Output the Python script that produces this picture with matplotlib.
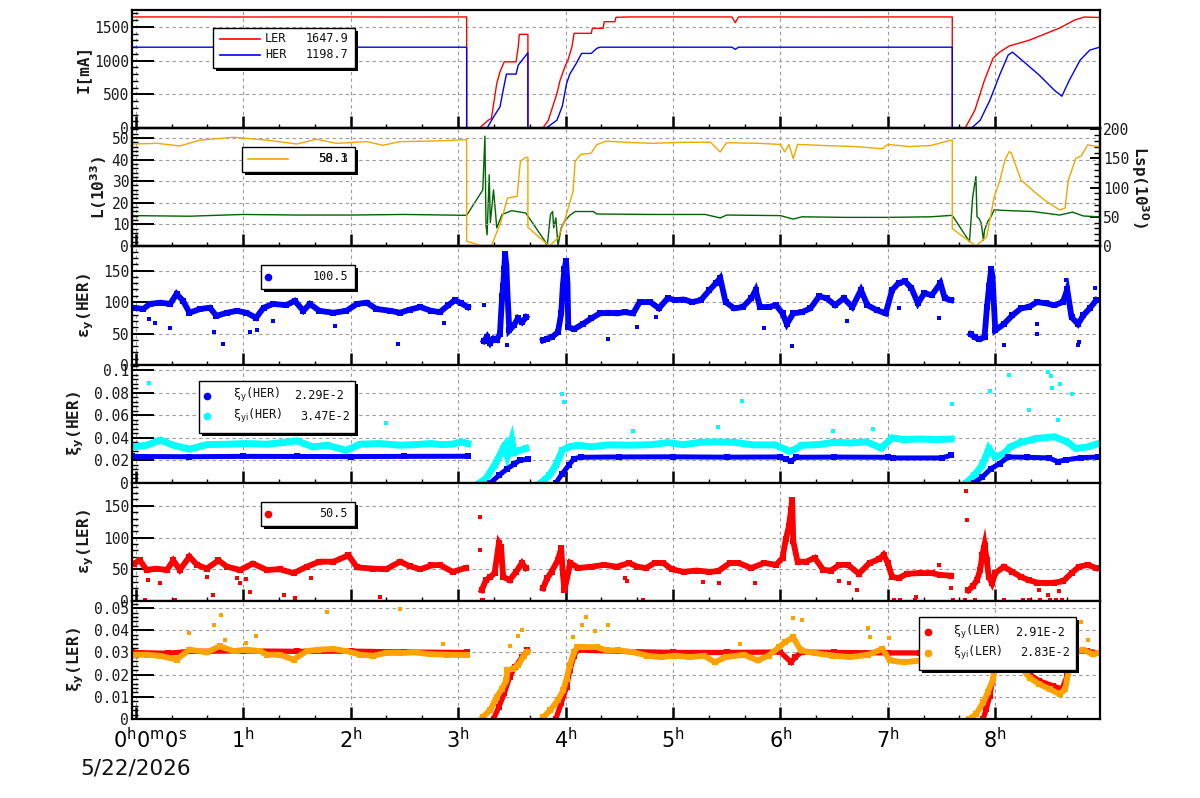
import numpy as np
import matplotlib.pyplot as plt
from matplotlib.ticker import MultipleLocator, FuncFormatter
from matplotlib.patches import Rectangle
from matplotlib.lines import Line2D
from matplotlib.transforms import ScaledTranslation

plt.rcParams['font.family'] = 'DejaVu Sans Mono'
plt.rcParams['mathtext.fontset'] = 'dejavusans'

# time axis in hours since 0:00
x_lo, x_hi = -0.035, 8.975
hour_ticks = [0, 1, 2, 3, 4, 5, 6, 7, 8]
hour_labels = [r'$0^{\rm h}0^{\rm m}0^{\rm s}$'] + [r'$%d^{\rm h}$' % h for h in hour_ticks[1:]]
date_label = '5/22/2026'
GAP = (None, None)

# ---- panel 1: beam currents [mA] ----
ler_cur = [(-0.035, 1648), (0.5, 1648), (1.0, 1647), (1.5, 1648), (2.0, 1648), (2.5, 1647),
           (3.08, 1648), (3.08, 0), (3.20, 0), (3.28, 115), (3.31, 140), (3.36, 660), (3.39, 833),
           (3.43, 982), (3.54, 982), (3.56, 1205), (3.57, 1390), (3.65, 1390), (3.65, 0), (3.79, 0),
           (3.84, 115), (3.92, 512), (3.95, 710), (4.00, 933), (4.02, 993), (4.06, 1205), (4.08, 1405),
           (4.24, 1405), (4.25, 1479), (4.35, 1479), (4.36, 1577), (4.46, 1577), (4.47, 1643),
           (4.6, 1648), (5.0, 1648), (5.55, 1648), (5.58, 1563), (5.61, 1648), (6.0, 1648),
           (6.5, 1647), (7.0, 1648), (7.60, 1648), (7.60, 0), (7.72, 0), (7.81, 263), (7.90, 710),
           (7.98, 1037), (8.04, 1126), (8.13, 1216), (8.32, 1305), (8.60, 1484), (8.74, 1603),
           (8.83, 1647), (8.975, 1640)]
her_cur = [(-0.035, 1199), (3.08, 1199), (3.08, 0), (3.27, 0), (3.33, 164), (3.39, 313), (3.42, 561),
           (3.45, 800), (3.54, 800), (3.56, 933), (3.65, 1116), (3.65, 0), (3.82, 0), (3.92, 115),
           (3.97, 323), (4.01, 660), (4.04, 800), (4.10, 958), (4.15, 1107), (4.24, 1107),
           (4.29, 1181), (4.32, 1199), (5.55, 1199), (5.58, 1167), (5.61, 1199), (7.60, 1199),
           (7.60, 0), (7.78, 0), (7.86, 115), (7.95, 412), (8.04, 784), (8.12, 1082), (8.16, 1126),
           (8.27, 977), (8.41, 784), (8.55, 561), (8.62, 472), (8.69, 710), (8.79, 1007),
           (8.88, 1156), (8.975, 1201)]
cur_legend = [('LER', '1647.9'), ('HER', '1198.7')]

# ---- panel 2: luminosity L (1e33, left) and Lsp (1e30, right) ----
lum = [(-0.035, 47.2), (0.2, 47.5), (0.41, 46.3), (0.6, 49), (0.91, 50.3), (1.22, 49), (1.5, 47.2),
       (1.68, 49.4), (1.87, 47.5), (2.15, 48.3), (2.30, 46.6), (2.46, 48.3), (2.7, 48.5), (2.9, 48.8),
       (3.08, 49.2), (3.08, 2.2), (3.23, 0), (3.31, 0), (3.40, 11.4), (3.46, 22.2), (3.55, 23),
       (3.58, 39.2), (3.63, 41), (3.65, 41), (3.65, 8.6), (3.85, 0), (3.93, 3.7), (3.99, 11.4),
       (4.07, 25.3), (4.09, 39.2), (4.14, 42.3), (4.24, 43), (4.29, 46.9), (4.38, 48.5), (4.56, 48),
       (4.8, 47.5), (5.1, 48), (5.35, 48), (5.44, 43.5), (5.5, 47.8), (5.8, 47.5), (6.0, 47),
       (6.04, 43.5), (6.08, 47), (6.12, 40.4), (6.16, 47), (6.4, 46.5), (6.7, 46), (6.95, 45),
       (7.0, 47), (7.2, 46), (7.4, 46.5), (7.55, 48.5), (7.60, 49), (7.60, 8), (7.82, 0),
       (7.92, 4.3), (7.95, 12), (7.99, 22.8), (8.04, 29.8), (8.09, 39.8), (8.13, 43.7), (8.15, 43),
       (8.24, 30.5), (8.38, 24.4), (8.48, 20.5), (8.60, 16.7), (8.65, 17.6), (8.68, 30.5),
       (8.75, 40.6), (8.80, 41.6), (8.86, 46.8), (8.96, 46)]
lsp = [(-0.035, 52), (0.5, 51), (1.0, 54), (1.5, 53), (2.0, 53), (2.5, 54), (3.08, 52.5), (3.23, 96),
       (3.25, 188), (3.26, 36), (3.27, 19), (3.29, 122), (3.30, 40), (3.33, 96), (3.35, 54),
       (3.36, 31), (3.41, 54), (3.50, 60.5), (3.63, 56.5), (3.81, 8), (3.83, 0), (3.86, 54),
       (3.88, 59), (3.89, 31), (3.91, 48), (3.93, 0), (3.96, 31), (3.99, 42), (4.04, 52.5),
       (4.09, 59), (4.26, 59), (4.29, 54.8), (4.8, 54), (5.3, 54), (5.44, 48), (5.5, 53), (6.0, 52),
       (6.12, 46), (6.2, 50), (6.6, 49), (7.0, 49), (7.4, 50), (7.60, 52.5), (7.76, 7.4), (7.79, 84),
       (7.82, 119), (7.83, 50), (7.85, 47), (7.87, 39), (7.89, 10), (7.90, 27), (7.93, 42),
       (7.96, 50), (7.99, 62), (8.07, 61), (8.35, 59), (8.60, 53), (8.72, 58), (8.82, 51.4),
       (8.96, 50)]
lum_legend = ['50.1', '58.3']

# ---- panel 3: vertical emittance HER ----
her_emit = [(-0.02, 91), (0.07, 89), (0.13, 97), (0.23, 99), (0.32, 97), (0.38, 113), (0.44, 102),
            (0.50, 83), (0.60, 89), (0.69, 91), (0.75, 78), (0.85, 83), (0.94, 86), (1.03, 83),
            (1.12, 75), (1.19, 91), (1.28, 97), (1.40, 95), (1.48, 102), (1.56, 86), (1.62, 97),
            (1.71, 86), (1.84, 83), (1.96, 86), (2.06, 97), (2.15, 99), (2.24, 89), (2.37, 86),
            (2.46, 83), (2.55, 88), (2.65, 92), (2.75, 86), (2.83, 84), (2.91, 95), (2.97, 103),
            (3.03, 98), (3.09, 92), GAP,
            (3.24, 38), (3.27, 45), (3.30, 35), (3.33, 42), (3.36, 40), (3.39, 50), (3.41, 109),
            (3.42, 125), (3.43, 152), (3.438, 176), (3.45, 157), (3.458, 119), (3.477, 55),
            (3.52, 63), (3.556, 74), (3.595, 68), (3.634, 76), GAP,
            (3.79, 39), (3.83, 42), (3.87, 44), (3.93, 52), (3.96, 82), (3.975, 125), (3.99, 152),
            (4.005, 165), (4.018, 130), (4.026, 60), (4.08, 57), (4.16, 65), (4.24, 74), (4.32, 82),
            (4.40, 83), (4.48, 82), (4.55, 84), (4.63, 82), (4.69, 100), (4.79, 100), (4.87, 90),
            (4.95, 106), (5.02, 103), (5.10, 104), (5.18, 100), (5.26, 103), (5.34, 119),
            (5.40, 130), (5.44, 138), (5.49, 100), (5.57, 90), (5.65, 92), (5.73, 106), (5.77, 119),
            (5.81, 92), (5.89, 92), (5.96, 95), (6.02, 82), (6.06, 65), (6.12, 82), (6.20, 84),
            (6.28, 90), (6.36, 109), (6.43, 106), (6.51, 95), (6.59, 106), (6.67, 92), (6.75, 119),
            (6.81, 95), (6.90, 87), (6.98, 82), (7.04, 119), (7.10, 130), (7.16, 133), (7.22, 122),
            (7.28, 98), (7.34, 114), (7.41, 111), (7.49, 130), (7.53, 106), (7.59, 103), GAP,
            (7.77, 49), (7.81, 44), (7.85, 41), (7.90, 44), (7.923, 92), (7.943, 125), (7.962, 152),
            (7.974, 141), (8.00, 55), (8.08, 65), (8.16, 79), (8.24, 90), (8.31, 92), (8.39, 100),
            (8.47, 98), (8.55, 95), (8.63, 100), (8.67, 120), (8.71, 76), (8.77, 65), (8.82, 79),
            (8.88, 90), (8.94, 103)]
her_emit_out = [(0.12, 73), (0.18, 67), (0.32, 59), (0.73, 52), (0.81, 34), (1.06, 52), (1.13, 55),
                (1.28, 70), (1.85, 62), (2.44, 33), (2.87, 67), (3.24, 95), (3.46, 31), (4.40, 42),
                (4.67, 60), (4.84, 76), (5.85, 58), (6.11, 30), (6.62, 70), (7.10, 91), (7.48, 75),
                (8.08, 31), (8.39, 65), (8.39, 50), (8.66, 135), (8.77, 31), (8.78, 36), (8.93, 122)]
her_emit_legend = '100.5'

# ---- panel 4: beam-beam parameter HER ----
her_xi = [(-0.035, 0.0235), (0.5, 0.0233), (1.0, 0.0236), (1.5, 0.0235), (2.0, 0.0234),
          (2.5, 0.0236), (3.09, 0.0237), GAP,
          (3.30, 0.0), (3.38, 0.0068), (3.46, 0.0127), (3.52, 0.0166), (3.575, 0.0202),
          (3.65, 0.021), GAP,
          (3.91, 0.0), (3.97, 0.0083), (4.03, 0.0157), (4.08, 0.0216), (4.14, 0.0228), (4.5, 0.0231),
          (5.0, 0.0232), (5.5, 0.0229), (6.0, 0.0231), (6.05, 0.021), (6.10, 0.0195), (6.15, 0.0228),
          (6.5, 0.0230), (7.0, 0.0228), (7.05, 0.0222), (7.5, 0.0222), (7.59, 0.0246), GAP,
          (7.80, 0.0), (7.88, 0.0053), (7.96, 0.0127), (8.04, 0.0172), (8.12, 0.023), (8.3, 0.0228),
          (8.5, 0.0222), (8.58, 0.019), (8.66, 0.0205), (8.8, 0.0225), (8.96, 0.023)]
her_xii = [(-0.02, 0.032), (0.10, 0.0335), (0.23, 0.038), (0.35, 0.0335), (0.50, 0.030),
           (0.66, 0.034), (0.85, 0.0344), (1.03, 0.035), (1.22, 0.0344), (1.37, 0.0359),
           (1.50, 0.0374), (1.65, 0.032), (1.78, 0.0335), (1.96, 0.029), (2.09, 0.0344),
           (2.27, 0.035), (2.46, 0.0335), (2.6, 0.034), (2.75, 0.035), (2.85, 0.034), (2.95, 0.0345),
           (3.03, 0.0365), (3.09, 0.035), GAP,
           (3.20, 0.0), (3.26, 0.0039), (3.34, 0.0157), (3.42, 0.0306), (3.44, 0.0335),
           (3.46, 0.0246), (3.50, 0.038), (3.52, 0.027), (3.575, 0.029), (3.63, 0.0306), GAP,
           (3.77, 0.0), (3.85, 0.0068), (3.91, 0.0157), (3.97, 0.029), (4.03, 0.032), (4.12, 0.0335),
           (4.24, 0.032), (4.4, 0.0338), (4.6, 0.0335), (4.8, 0.034), (4.95, 0.0358), (5.1, 0.034),
           (5.25, 0.036), (5.4, 0.0365), (5.57, 0.036), (5.75, 0.0338), (5.95, 0.0338), (6.04, 0.030),
           (6.08, 0.028), (6.12, 0.029), (6.2, 0.0335), (6.35, 0.034), (6.5, 0.036), (6.65, 0.0355),
           (6.8, 0.0365), (6.94, 0.031), (7.04, 0.040), (7.15, 0.0385), (7.3, 0.039), (7.45, 0.0385),
           (7.59, 0.039), GAP,
           (7.73, 0.0), (7.805, 0.0068), (7.88, 0.0157), (7.94, 0.0306), (8.00, 0.023),
           (8.08, 0.0261), (8.14, 0.032), (8.24, 0.036), (8.39, 0.0395), (8.55, 0.041),
           (8.67, 0.0365), (8.75, 0.0306), (8.86, 0.032), (8.96, 0.035)]
her_xii_out = [(0.12, 0.089), (0.85, 0.0557), (1.28, 0.0824), (2.33, 0.0536), (3.97, 0.079),
               (3.99, 0.072), (4.63, 0.0459), (5.42, 0.0498), (5.64, 0.0726), (6.49, 0.0459),
               (6.86, 0.0483), (7.60, 0.0697), (7.95, 0.0815), (8.13, 0.0957), (8.31, 0.0646),
               (8.49, 0.0987), (8.52, 0.095), (8.53, 0.0845), (8.60, 0.0874), (8.58, 0.0557),
               (8.71, 0.0785)]
her_xi_legend = [(r'ξ$_{\rm y}$(HER)', '2.29E-2'), (r'ξ$_{\rm yi}$(HER)', '3.47E-2')]

# ---- panel 5: vertical emittance LER ----
ler_emit = [(-0.02, 59), (0.04, 64), (0.10, 49), (0.19, 51), (0.29, 49), (0.35, 64), (0.41, 49),
            (0.50, 70), (0.57, 57), (0.66, 51), (0.77, 64), (0.85, 54), (0.97, 49), (1.09, 59),
            (1.22, 49), (1.34, 50), (1.47, 44), (1.59, 54), (1.71, 62), (1.84, 62), (1.98, 72),
            (2.06, 53), (2.21, 51), (2.33, 50), (2.46, 62), (2.55, 55), (2.65, 50), (2.75, 56),
            (2.83, 57), (2.95, 46), (3.07, 52), GAP,
            (3.22, 17), (3.26, 33), (3.30, 38), (3.34, 44), (3.38, 91), (3.40, 85), (3.42, 38),
            (3.48, 33), (3.54, 46), (3.595, 60), (3.63, 52), GAP,
            (3.79, 20), (3.83, 36), (3.87, 46), (3.93, 65), (3.96, 83), (3.975, 44), (3.99, 17),
            (4.045, 60), (4.12, 52), (4.24, 54), (4.36, 57), (4.48, 54), (4.59, 60), (4.67, 54),
            (4.75, 52), (4.83, 60), (4.91, 60), (4.99, 50), (5.10, 46), (5.22, 48), (5.34, 46),
            (5.42, 47), (5.53, 60), (5.61, 60), (5.73, 52), (5.85, 60), (5.96, 57), (6.02, 68),
            (6.05, 97), (6.08, 118), (6.10, 144), (6.11, 159), (6.12, 94), (6.16, 62), (6.24, 62),
            (6.32, 68), (6.40, 49), (6.47, 48), (6.55, 57), (6.63, 57), (6.73, 43), (6.83, 60),
            (6.92, 66), (6.96, 73), (7.00, 60), (7.04, 38), (7.10, 36), (7.18, 43), (7.30, 44),
            (7.41, 44), (7.49, 41), (7.59, 40), GAP,
            (7.75, 17), (7.79, 23), (7.83, 33), (7.86, 49), (7.88, 73), (7.90, 89), (7.92, 65),
            (7.94, 38), (7.97, 28), (8.00, 44), (8.08, 54), (8.16, 46), (8.24, 38), (8.31, 33),
            (8.39, 29), (8.47, 28), (8.55, 29), (8.63, 31), (8.71, 44), (8.78, 54), (8.86, 57),
            (8.94, 52)]
ler_emit_out = [(0.086, 1), (0.117, 33), (0.225, 29), (0.365, 1), (0.66, 38), (0.72, 9), (0.945, 36),
                (0.97, 28), (1.03, 34), (1.06, 14), (1.38, 9), (1.48, 5), (1.63, 36), (2.27, 7),
                (3.20, 132), (3.20, 81), (3.22, 2), (3.23, 2), (4.72, 1), (4.55, 37), (4.57, 31),
                (5.28, 30), (5.43, 28), (5.76, 29), (6.55, 32), (6.64, 29), (6.71, 18), (7.06, 2),
                (7.11, 2), (7.25, 2), (7.26, 6), (7.48, 57), (7.59, 20), (7.61, 2), (7.72, 2),
                (7.73, 173), (7.74, 127), (7.81, 2), (8.08, 2), (8.26, 2), (8.31, 2), (8.42, 2),
                (8.51, 2), (8.57, 2), (8.62, 2), (8.41, 18), (8.49, 10), (8.59, 16)]
ler_emit_legend = '50.5'

# ---- panel 6: beam-beam parameter LER ----
ler_xi = [(-0.035, 0.0300), (0.3, 0.0296), (0.5, 0.0305), (1.0, 0.0307), (1.5, 0.0305),
          (2.0, 0.0306), (2.5, 0.0302), (3.08, 0.0300), GAP,
          (3.33, 0.0), (3.38, 0.0055), (3.43, 0.0115), (3.48, 0.019), (3.53, 0.0234),
          (3.595, 0.0279), (3.645, 0.0309), GAP,
          (3.91, 0.0), (3.96, 0.0071), (4.01, 0.0145), (4.04, 0.0219), (4.08, 0.0286),
          (4.11, 0.0311), (4.5, 0.0305), (5.0, 0.0300), (5.5, 0.0300), (6.0, 0.0302),
          (6.10, 0.0256), (6.14, 0.028), (6.2, 0.0302), (6.5, 0.0300), (7.0, 0.0298),
          (7.3, 0.0298), (7.58, 0.0305), GAP,
          (7.886, 0.0), (7.917, 0.0045), (7.948, 0.0104), (7.979, 0.018), (8.01, 0.0269),
          (8.07, 0.0328), (8.15, 0.0313), (8.23, 0.0246), (8.32, 0.0201), (8.41, 0.0172),
          (8.54, 0.0149), (8.62, 0.0134), (8.67, 0.0194), (8.71, 0.0254), (8.76, 0.0306),
          (8.85, 0.0306), (8.96, 0.0298)]
ler_xii = [(-0.02, 0.029), (0.10, 0.029), (0.225, 0.0285), (0.38, 0.0268), (0.50, 0.0313),
           (0.66, 0.030), (0.78, 0.0328), (0.91, 0.0306), (1.03, 0.0313), (1.16, 0.0306),
           (1.22, 0.029), (1.34, 0.029), (1.47, 0.0268), (1.59, 0.0306), (1.71, 0.0313),
           (1.84, 0.0316), (1.96, 0.0306), (2.09, 0.029), (2.21, 0.0285), (2.33, 0.0298),
           (2.46, 0.0298), (2.6, 0.0300), (2.75, 0.0292), (2.9, 0.029), (3.08, 0.0288), GAP,
           (3.23, 0.0008), (3.30, 0.0041), (3.36, 0.0100), (3.41, 0.0137), (3.45, 0.0175),
           (3.46, 0.0219), (3.51, 0.0227), (3.56, 0.0242), (3.61, 0.0286), (3.645, 0.0301), GAP,
           (3.795, 0.0008), (3.86, 0.0041), (3.93, 0.0085), (3.98, 0.0130), (4.01, 0.0182),
           (4.04, 0.0242), (4.08, 0.0301), (4.11, 0.0324), (4.16, 0.0324), (4.29, 0.0324),
           (4.39, 0.0309), (4.49, 0.0309), (4.63, 0.0301), (4.76, 0.0286), (4.89, 0.0279),
           (5.02, 0.0286), (5.16, 0.0279), (5.29, 0.0286), (5.39, 0.0256), (5.49, 0.0279),
           (5.66, 0.029), (5.79, 0.0264), (5.89, 0.0286), (5.99, 0.0324), (6.04, 0.0346),
           (6.12, 0.0368), (6.19, 0.0309), (6.32, 0.0297), (6.49, 0.0286), (6.65, 0.0279),
           (6.82, 0.029), (6.95, 0.0316), (7.02, 0.0264), (7.15, 0.0256), (7.32, 0.0264),
           (7.48, 0.0271), (7.58, 0.0286), GAP,
           (7.76, 0.0), (7.82, 0.0022), (7.89, 0.0075), (7.93, 0.012), (7.98, 0.018),
           (7.99, 0.0239), (8.03, 0.0298), (8.07, 0.0328), (8.12, 0.0335), (8.16, 0.0291),
           (8.23, 0.0239), (8.32, 0.0186), (8.41, 0.0157), (8.51, 0.0134), (8.60, 0.0112),
           (8.65, 0.0134), (8.68, 0.0209), (8.71, 0.0269), (8.75, 0.0306), (8.82, 0.0313),
           (8.91, 0.0291), (8.96, 0.0298)]
ler_xii_out = [(0.50, 0.0388), (0.73, 0.0424), (0.79, 0.047), (0.83, 0.0355), (1.03, 0.0343),
               (1.12, 0.0373), (1.78, 0.0483), (2.46, 0.0496), (2.86, 0.0339), (3.48, 0.033),
               (3.56, 0.0375), (3.595, 0.040), (4.07, 0.0371), (4.154, 0.0424), (4.187, 0.046),
               (4.277, 0.0398), (4.393, 0.0424), (5.62, 0.0339), (6.12, 0.0455), (6.20, 0.0446),
               (6.82, 0.041), (6.836, 0.0371), (7.01, 0.0365), (8.08, 0.0421), (8.80, 0.0437),
               (8.86, 0.0358)]
ler_xi_legend = [(r'ξ$_{\rm y}$(LER)', '2.91E-2'), (r'ξ$_{\rm yi}$(LER)', '2.83E-2')]


def xy(pairs):
    a = np.array(pairs, dtype=float)
    return a[:, 0], a[:, 1]


c_red, c_blue, c_lum, c_lsp = '#ff0000', '#0000ff', '#f0a800', '#006400'
c_cyan, c_orange = '#00ffff', '#ffa200'
W, H = 1200, 798

fig = plt.figure(figsize=(12, 7.98), dpi=100)
edges = [10, 128, 246, 365, 483, 601, 719]
axes = []
for i in range(6):
    top, bot = edges[i], edges[i + 1]
    axes.append(fig.add_axes([132 / W, 1 - bot / H, 968 / W, (bot - top) / H]))

fmt = FuncFormatter(lambda v, p: '%g' % round(v, 6))


def style(ax, ymax, major, minor, label, label_x):
    ax.set_xlim(x_lo, x_hi)
    ax.set_ylim(0, ymax)
    ax.set_xticks(hour_ticks)
    ax.xaxis.set_minor_locator(MultipleLocator(1 / 3))
    ax.yaxis.set_major_locator(MultipleLocator(major))
    ax.yaxis.set_minor_locator(MultipleLocator(minor))
    ax.yaxis.set_major_formatter(fmt)
    ax.grid(True, which='major', ls=(0, (3, 3)), color='#9a9a9a', lw=0.8)
    ax.set_axisbelow(True)
    for s in ax.spines.values():
        s.set_linewidth(1.6)
    ax.tick_params(axis='x', which='major', direction='in', length=8.5, width=1.8, labelbottom=False)
    ax.tick_params(axis='x', which='minor', direction='in', length=3, width=1.0)
    ax.tick_params(axis='y', which='major', direction='in', length=16, width=1.4, pad=2,
                   labelsize=10.5, labelcolor='#1a1a1a')
    ax.tick_params(axis='y', which='minor', direction='in', length=4.5, width=1.0)
    ax.set_ylabel(label, fontsize=11.5, fontweight='bold', color='#1a1a1a')
    ax.yaxis.label.set_va('center')
    ax.yaxis.set_label_coords((label_x - 132) / 968, 0.5)


def fx(px):
    return px / W


def fy(py):
    return 1 - py / H


def legend_box(x0, y0, x1, y1):
    fig.add_artist(Rectangle((fx(x0 + 3), fy(y1 + 3)), (x1 - x0) / W, (y1 - y0) / H,
                             transform=fig.transFigure, facecolor='black', edgecolor='none', zorder=20))
    fig.add_artist(Rectangle((fx(x0), fy(y1)), (x1 - x0) / W, (y1 - y0) / H,
                             transform=fig.transFigure, facecolor='white', edgecolor='black',
                             lw=1.0, zorder=21))


def legend_line(x0, x1, y, color):
    fig.add_artist(Line2D([fx(x0), fx(x1)], [fy(y), fy(y)], transform=fig.transFigure,
                          color=color, lw=1.2, zorder=22))


def legend_dot(x, y, color):
    fig.add_artist(Line2D([fx(x)], [fy(y)], transform=fig.transFigure, marker='o', ms=4.5,
                          color=color, mec=color, zorder=22))


def legend_text(x, y, s, ha='left', size=8.5):
    fig.text(fx(x), fy(y), s, ha=ha, va='center', fontsize=size, color='#111111', zorder=23)


band = dict(marker='s', ms=4, mew=0, solid_joinstyle='miter')
dots = dict(marker='s', ms=3.4, mew=0, ls='none')

# panel 1
ax = axes[0]
ax.plot(*xy(ler_cur), color=c_red, lw=1.0)
ax.plot(*xy(her_cur), color=c_blue, lw=1.0)
style(ax, 1751, 500, 100, 'I[mA]', 83)
legend_box(213, 28, 355, 68)
for (name, val), yy, cc in zip(cur_legend, [39, 55], [c_red, c_blue]):
    legend_line(220, 260, yy, cc)
    legend_text(265, yy, name)
    legend_text(348, yy, val, ha='right')

# panel 2
ax = axes[1]
axr = ax.twinx()
axr.plot(*xy(lsp), color=c_lsp, lw=1.0)
ax.plot(*xy(lum), color=c_lum, lw=1.0)
ax.set_zorder(axr.get_zorder() + 1)
ax.patch.set_visible(False)
style(ax, 54.6, 10, 2, r'L(10$^{\mathbf{33}}$)', 99)
axr.set_ylim(0, 202)
axr.yaxis.set_major_locator(MultipleLocator(50))
axr.yaxis.set_minor_locator(MultipleLocator(10))
axr.tick_params(axis='y', which='major', direction='in', length=7, width=1.4, pad=2,
                labelsize=10.5, labelcolor='#1a1a1a')
axr.tick_params(axis='y', which='minor', direction='in', length=4, width=1.0)
axr.set_ylabel(r'Lsp(10$^{\mathbf{30}}$)', fontsize=11.5, fontweight='bold', color='#1a1a1a',
               rotation=270)
axr.yaxis.label.set_va('center')
axr.yaxis.set_label_coords(1 + 40 / 968, 0.5)
for s in axr.spines.values():
    s.set_linewidth(1.6)
legend_box(242, 147, 355, 172)
legend_line(248, 288, 158.5, c_lum)
for s in lum_legend:
    legend_text(348, 158.5, s, ha='right', size=9)

# panel 3
ax = axes[2]
ax.plot(*xy(her_emit), color=c_blue, lw=4.2, **band)
ax.plot(*xy(her_emit_out), color=c_blue, **dots)
style(ax, 189, 50, 10, r'ε$_{\mathbf{y}}$(HER)', 86)
legend_box(261, 265, 355, 289)
legend_dot(268, 276.5, c_blue)
legend_text(348, 276.5, her_emit_legend, ha='right')

# panel 4
ax = axes[3]
ax.plot(*xy(her_xii), color=c_cyan, lw=5.0, **band)
ax.plot(*xy(her_xii_out), color=c_cyan, **dots)
ax.plot(*xy(her_xi), color=c_blue, lw=3.6, **band)
style(ax, 0.1046, 0.02, 0.004, r'ξ$_{\mathbf{y}}$(HER)', 76)
legend_box(199, 381, 355, 433)
for (name, val), yy, cc, vx in zip(her_xi_legend, [395.5, 416.5], [c_blue, c_cyan], [294, 300]):
    legend_dot(207, yy, cc)
    legend_text(233, yy, name)
    legend_text(vx, yy, val)

# panel 5
ax = axes[4]
ax.plot(*xy(ler_emit), color=c_red, lw=4.2, **band)
ax.plot(*xy(ler_emit_out), color=c_red, **dots)
style(ax, 186, 50, 10, r'ε$_{\mathbf{y}}$(LER)', 86)
legend_box(261, 502, 355, 526)
legend_dot(268, 513.5, c_red)
legend_text(348, 513.5, ler_emit_legend, ha='right')

# panel 6
ax = axes[5]
ax.plot(*xy(ler_xi), color=c_red, lw=3.8, **band)
ax.plot(*xy(ler_xii), color=c_orange, lw=4.2, **band)
ax.plot(*xy(ler_xii_out), color=c_orange, **dots)
style(ax, 0.0532, 0.01, 0.002, r'ξ$_{\mathbf{y}}$(LER)', 76)
ax.tick_params(axis='x', which='major', labelbottom=True, pad=6, labelsize=15)
ax.set_xticklabels([''] + hour_labels[1:])
ax.text(0, 0, hour_labels[0], fontsize=15, ha='center', va='top',
        transform=ax.get_xaxis_transform() + ScaledTranslation(0.14, -6 / 72, fig.dpi_scale_trans))
legend_box(919, 617, 1076, 670)
for (name, val), yy, cc, vx in zip(ler_xi_legend, [632, 652.5], [c_red, c_orange], [1015, 1020]):
    legend_dot(928, yy, cc)
    legend_text(953, yy, name)
    legend_text(vx, yy, val)

fig.text(135.5 / W, fy(768), date_label, ha='center', va='center', fontsize=15.5,
         family='DejaVu Sans', color='#111111')

fig.savefig('out.png', dpi=100)
